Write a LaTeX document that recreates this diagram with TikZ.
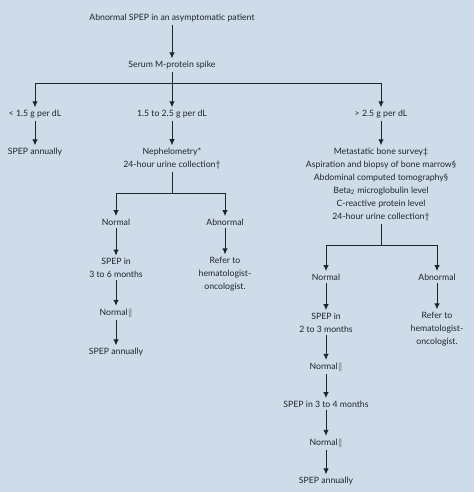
\documentclass[tikz,border=0pt]{standalone}
\usepackage{fontspec}
\setmainfont{Lato}
\usepackage{tikz}
\usetikzlibrary{positioning,calc,arrows.meta}
\definecolor{panelblue}{RGB}{206,219,233}
\definecolor{inkgray}{RGB}{32,36,48}
\tikzset{finding/.style={align=center, inner sep=2.5pt, text=inkgray, font=\fontsize{8.7}{13}\selectfont}}
\tikzset{flow/.style={draw=inkgray, line width=0.9pt, >={Latex[length=6pt,width=5.5pt]}}}

\begin{document}
\begin{tikzpicture}[x=1pt, y=-1pt]
\fill[panelblue] (0,0) rectangle (474,492);
\useasboundingbox (0,0) rectangle (474,492);

\node[finding] (start) at (172,18) {Abnormal SPEP in an asymptomatic patient};
\node[finding] (spike) at (172,65) {Serum M-protein spike};
\coordinate (split) at (172,83);
\node[finding] (low) at (35,114) {< 1.5 g per dL};
\node[finding] (mid) at (172,114) {1.5 to 2.5 g per dL};
\node[finding] (high) at (381,114) {> 2.5 g per dL};
\draw[flow,->] (start) -- (spike);
\draw[flow] (spike) -- (split);
\draw[flow,->] (split) -| (low);
\draw[flow,->] (split) -- (mid);
\draw[flow,->] (split) -| (high);

% low branch
\node[finding] (lowann) at (35,152) {SPEP annually};
\draw[flow,->] (low) -- (lowann);

% middle branch
\node[finding] (neph) at (172,158.5) {Nephelometry*\\24-hour urine collection\textdagger};
\coordinate (midsplit) at (172,193);
\node[finding] (midnorm) at (116,222) {Normal};
\node[finding] (midabn) at (225,222) {Abnormal};
\draw[flow,->] (mid) -- (neph);
\draw[flow] (neph) -- (midsplit);
\draw[flow,->] (midsplit) -| (midnorm);
\draw[flow,->] (midsplit) -| (midabn);
\node[finding] (midspep) at (116,268) {SPEP in\\3 to 6 months};
\node[finding] (midnorm2) at (116,313) {Normal$\|$};
\node[finding] (midann) at (116,352) {SPEP annually};
\node[finding] (midref) at (225,274) {Refer to\\hematologist-\\oncologist.};
\draw[flow,->] (midnorm) -- (midspep);
\draw[flow,->] (midspep) -- (midnorm2);
\draw[flow,->] (midnorm2) -- (midann);
\draw[flow,->] (midabn) -- (midref);

% high branch
\node[finding] (tests) at (381,184.5) {Metastatic bone survey\textdaggerdbl\\Aspiration and biopsy of bone marrow\S\\Abdominal computed tomography\S\\Beta\textsubscript{2} microglobulin level\\C-reactive protein level\\24-hour urine collection\textdagger};
\coordinate (highsplit) at (381,245);
\node[finding] (highnorm) at (326,277) {Normal};
\node[finding] (highabn) at (437,277) {Abnormal};
\draw[flow,->] (high) -- (tests);
\draw[flow] (tests) -- (highsplit);
\draw[flow,->] (highsplit) -| (highnorm);
\draw[flow,->] (highsplit) -| (highabn);
\node[finding] (highspep) at (326,322.5) {SPEP in\\2 to 3 months};
\node[finding] (highnorm2) at (326,367) {Normal$\|$};
\node[finding] (highspep2) at (326,404) {SPEP in 3 to 4 months};
\node[finding] (highnorm3) at (326,443) {Normal$\|$};
\node[finding] (highann) at (326,481) {SPEP annually};
\node[finding] (highref) at (437,329) {Refer to\\hematologist-\\oncologist.};
\draw[flow,->] (highnorm) -- (highspep);
\draw[flow,->] (highspep) -- (highnorm2);
\draw[flow,->] (highnorm2) -- (highspep2);
\draw[flow,->] (highspep2) -- (highnorm3);
\draw[flow,->] (highnorm3) -- (highann);
\draw[flow,->] (highabn) -- (highref);
\end{tikzpicture}
\end{document}
